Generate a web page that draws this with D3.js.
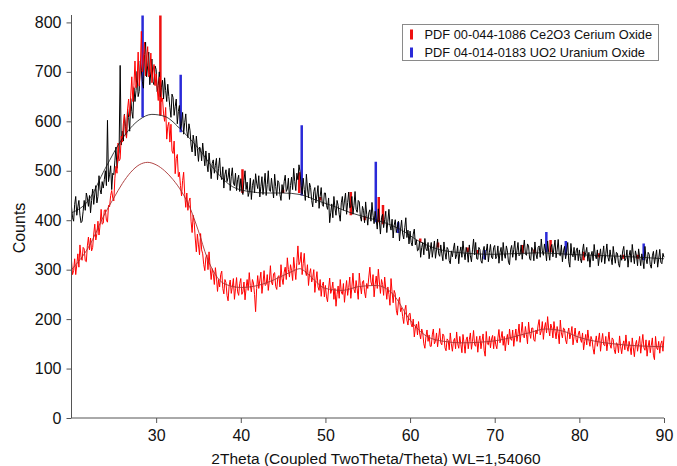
<!DOCTYPE html>
<meta charset="utf-8" />
<title>XRD pattern</title>
<style>
  body { margin: 0; background: #fff; }
  svg { display: block; font-family: "Liberation Sans", Arial, sans-serif; }
  .tick text { font-size: 16px; fill: #111; }
  .axis path, .axis line { stroke: #555; }
</style>
<body>
<svg width="677" height="466"></svg>
<script src="https://d3js.org/d3.v7.min.js"></script>
<script>
// scan grid: 2Theta from 20 to 90 in 0.125 deg steps, one row = 5 degrees
const step = 0.125;

// black scan (counts)
const blackCounts = [
  427,405,398,432,448,410,427,440,410,395,398,418,440,420,455,445,428,450,415,440,463,432,453,470,435,448,490,462,453,478,465,482,500,470,602,478,493,510,462,495,
  492,520,548,505,523,538,713,552,580,560,614,590,567,625,608,580,646,620,606,668,640,662,701,650,660,722,703,680,667,735,760,690,712,740,674,700,726,680,674,712,
  705,660,672,700,650,668,683,645,688,662,640,675,650,628,608,655,648,612,630,645,595,620,632,585,595,618,574,598,615,580,567,595,582,552,538,572,557,530,570,545,
  519,548,545,520,556,532,510,540,515,498,536,512,484,515,522,495,511,525,482,505,526,490,482,508,465,492,502,478,487,505,460,488,506,475,470,495,460,482,491,458,
  484,460,452,480,500,462,477,448,457,485,442,470,482,455,494,475,464,490,447,468,488,452,473,495,450,472,500,460,458,485,465,445,493,468,450,480,476,452,440,472,
  455,478,491,458,463,485,442,470,487,462,505,478,460,495,482,512,498,470,453,485,462,440,493,465,445,475,466,440,427,458,466,435,451,470,424,448,466,432,428,455,
  455,430,422,445,395,415,433,405,448,425,410,440,430,412,398,435,448,420,439,455,412,436,457,425,427,448,412,430,458,422,416,440,437,408,398,428,420,395,437,412,
  390,415,421,398,436,410,393,418,400,382,423,398,372,405,412,385,401,418,375,398,422,390,380,402,364,390,401,375,386,398,358,382,400,372,362,385,405,365,380,352,
  378,355,348,372,382,350,360,338,340,358,325,345,355,330,363,342,338,355,322,340,355,325,342,358,323,340,362,332,327,350,332,318,356,335,321,345,341,318,312,338,
  326,342,354,322,330,348,312,335,346,325,358,335,320,345,336,315,350,328,316,340,362,330,355,322,321,345,341,318,313,338,347,320,337,352,316,335,351,325,322,345,
  349,322,327,348,313,335,345,318,355,332,323,348,338,315,310,340,349,325,341,358,319,338,355,328,331,350,321,342,360,332,329,352,348,322,319,345,340,318,356,332,
  322,345,348,325,362,338,329,352,338,318,358,335,319,345,351,326,344,360,324,340,361,330,328,350,316,338,347,322,336,355,316,305,353,330,326,345,319,338,344,318,
  340,322,314,338,352,325,334,345,317,335,305,328,337,318,351,330,322,340,308,326,342,315,330,348,312,332,352,325,317,340,324,310,347,328,313,335,333,312,305,330,
  319,338,347,318,323,340,305,328,339,315,351,330,312,338,328,308,342,325,308,332,319,302,347,322,312,335,331,310,303,328,337,312,326,340,305,322,341,315,312,333,
  325
];

// red scan (counts)
const redCounts = [
  318,290,298,322,290,310,332,305,350,325,319,345,342,318,316,348,366,340,364,338,345,372,392,360,373,398,370,390,422,392,394,420,421,400,396,430,427,450,460,445,
  439,485,509,495,556,520,524,570,558,595,613,580,566,625,645,610,653,690,640,672,722,668,681,740,671,705,782,700,726,760,692,730,751,690,697,738,678,700,715,672,
  696,665,642,688,691,640,647,615,600,628,564,590,598,558,594,540,535,560,494,525,533,488,497,470,449,480,497,452,426,455,420,438,445,398,375,410,395,362,336,372,
  350,330,373,340,332,310,298,325,330,300,336,305,280,302,292,270,304,285,256,280,265,290,297,262,251,280,274,248,237,268,279,252,265,282,240,262,284,255,248,272,
  282,250,255,275,239,262,280,258,294,268,255,280,273,250,215,262,288,262,279,295,252,272,298,268,270,290,258,278,308,275,269,292,294,266,260,285,288,265,310,282,
  270,295,305,280,324,300,285,310,298,278,325,302,280,315,348,310,316,335,290,312,333,298,288,310,268,292,302,275,284,300,254,278,296,265,258,280,246,268,275,245,
  268,245,235,262,283,252,260,275,240,262,226,250,267,242,280,255,250,272,234,258,278,248,264,285,242,265,293,260,253,278,261,240,293,268,251,275,278,255,243,272,
  262,285,305,275,268,290,245,270,287,262,301,275,252,280,270,248,285,262,240,265,250,228,282,255,233,258,251,218,208,235,244,215,223,205,191,218,228,198,188,210,
  212,190,184,200,164,182,190,168,195,172,160,180,172,150,141,165,178,155,168,145,145,168,180,150,155,172,144,162,181,152,148,170,166,142,136,160,157,138,172,150,
  135,155,161,140,174,150,141,165,149,132,169,152,131,158,164,140,158,172,139,155,177,148,145,165,133,155,166,140,156,170,137,125,175,150,148,165,142,160,167,140,
  165,148,140,162,179,152,162,175,147,165,136,158,169,148,180,160,157,178,145,165,180,155,170,190,153,172,194,165,162,185,169,150,194,172,161,182,182,158,155,178,
  170,188,199,168,176,195,159,182,193,172,205,180,166,190,182,162,195,175,160,185,171,150,198,172,162,182,180,158,150,172,182,160,170,185,148,165,182,158,152,170,
  176,160,153,172,138,155,169,148,178,158,145,165,158,140,129,152,166,145,158,172,135,155,171,148,146,165,136,155,174,148,141,162,159,138,130,152,150,132,166,145,
  130,148,156,138,168,145,135,155,143,128,162,142,124,148,157,135,150,165,131,150,169,142,137,158,125,145,157,132,147,162,127,118,165,142,138,155,131,150,156,135,
  165
];

// fitted amorphous background curves
const blackBgTheta = [20,22,24,26,28,29.5,31,33,35,37,39,41,43,45,47,49,51,53,55,57,59,61,63,65,70,75,80,85,90];
const blackBg      = [415,440,505,565,603,614,610,582,545,500,468,458,455,455,452,440,428,415,405,395,380,358,343,336,331,334,330,327,322];
const redBgTheta = [20,22,24,25,26,27,28,29,30,31,32,33,34,35,36,37,38,40,42,44,46,47,48,50,52,54,56,58,60,62,64,66,70,74,76,78,80,84,90];
const redBg      = [300,345,415,445,474,497,512,517,512,500,482,458,425,378,325,290,272,264,268,280,296,302,290,262,258,266,268,250,198,165,155,152,156,172,180,176,163,150,144];

// reference patterns (stick positions, drawn from low to high counts)
const ceTheta = [30.5,40.2,45.0,46.9,49.4,53.0,54.65,56.3,56.8,61.2,63.3,66.8,68.0,73.3,74.7,76.6,80.5,82.3,85.2,86.9];
const ceLow   = [612,455,455,455,440,410,400,396,392,355,345,335,332,333,333,335,319,325,322,322];
const ceHigh  = [814,503,462,497,447,457,408,447,431,363,355,345,340,350,341,360,336,333,330,330];
const uoTheta = [28.4,32.9,47.2,55.95,58.6,68.8,76.1,78.4,87.6];
const uoLow   = [608,578,450,396,374,321,335,329,319];
const uoHigh  = [814,694,592,518,396,340,376,358,353];

const legendLabels = ["PDF 00-044-1086 Ce2O3 Cerium Oxide", "PDF 04-014-0183 UO2 Uranium Oxide"];
const yTicks = [0,100,200,300,400,500,600,700,800];
const xTicks = [30,40,50,60,70,80,90];

const svg = d3.select("svg");
const x = d3.scaleLinear().domain([20, 90]).range([71.5, 664]);
const y = d3.scaleLinear().domain([0, 815]).range([418, 15]);

svg.append("defs").append("clipPath").attr("id", "plot")
  .append("rect").attr("x", x(20)).attr("y", y(815) - 1)
  .attr("width", x(90) - x(20) + 2).attr("height", y(0) - y(815) + 1);

const plot = svg.append("g").attr("clip-path", "url(#plot)");

// sticks behind the scans
function sticks(th, lo, hi, color) {
  plot.append("g").selectAll("line")
    .data(th)
    .join("line")
    .attr("x1", d => x(d)).attr("x2", d => x(d))
    .attr("y1", (d, i) => y(lo[i]))
    .attr("y2", (d, i) => y(hi[i]))
    .attr("stroke", color)
    .attr("stroke-width", 2.5);
}
sticks(uoTheta, uoLow, uoHigh, "#2a2ad8");
sticks(ceTheta, ceLow, ceHigh, "#ee1111");

const scanLine = d3.line().x((d, i) => x(20 + i * step)).y(d => y(d));

plot.append("path")
  .datum(blackCounts)
  .attr("fill", "none")
  .attr("stroke", "#000")
  .attr("stroke-width", 1)
  .attr("d", scanLine);

plot.append("path")
  .datum(redCounts)
  .attr("fill", "none")
  .attr("stroke", "#f00")
  .attr("stroke-width", 1)
  .attr("d", scanLine);

// background fits
const bgLine = th => d3.line().curve(d3.curveMonotoneX).x((d, i) => x(th[i])).y(d => y(d));
plot.append("path")
  .datum(blackBg)
  .attr("fill", "none")
  .attr("stroke", "#111")
  .attr("stroke-width", 0.8)
  .attr("d", bgLine(blackBgTheta));
plot.append("path")
  .datum(redBg)
  .attr("fill", "none")
  .attr("stroke", "#a83232")
  .attr("stroke-width", 0.9)
  .attr("d", bgLine(redBgTheta));

// axes
const yAxis = svg.append("g").attr("class", "axis").attr("transform", `translate(${x(20)},0)`);
yAxis.call(d3.axisLeft(y).tickValues(d3.range(0, 811, 10)).tickSize(2.5).tickFormat(""));
yAxis.call(d3.axisLeft(y).tickValues(yTicks).tickSize(5).tickPadding(5).tickFormat(d3.format("d")));
yAxis.select(".domain").attr("d", `M0,${y(0)}V${y(815)}`);

const xAxis = svg.append("g").attr("class", "axis").attr("transform", `translate(0,${y(0)})`);
xAxis.call(d3.axisBottom(x).tickValues(d3.range(20, 91, 1)).tickSize(2.5).tickFormat(""));
xAxis.call(d3.axisBottom(x).tickValues(xTicks).tickSize(5).tickPadding(7));
xAxis.select(".domain").attr("d", `M${x(20)},0H${x(90)}`);

svg.selectAll(".axis .tick text").attr("fill", "#111");

svg.append("text")
  .attr("x", 376).attr("y", 464)
  .attr("text-anchor", "middle")
  .attr("font-size", 15.5)
  .attr("fill", "#111")
  .text("2Theta (Coupled TwoTheta/Theta) WL=1,54060");

svg.append("text")
  .attr("transform", "translate(25,228) rotate(-90)")
  .attr("text-anchor", "middle")
  .attr("font-size", 16)
  .attr("fill", "#111")
  .text("Counts");

// legend
const legend = svg.append("g").attr("transform", "translate(402.5,24.5)");
legend.append("rect")
  .attr("width", 256).attr("height", 36)
  .attr("fill", "#fff").attr("stroke", "#8a8a8a");
const legendColors = ["#ee1111", "#2a2ad8"];
const rows = legend.selectAll("g.row").data(legendLabels).join("g")
  .attr("class", "row")
  .attr("transform", (d, i) => `translate(0,${9 + i * 18})`);
rows.append("rect")
  .attr("x", 7.5).attr("y", -4).attr("width", 3).attr("height", 10)
  .attr("fill", (d, i) => legendColors[i]);
rows.append("text")
  .attr("x", 22).attr("y", 5)
  .attr("font-size", 12.8)
  .attr("fill", "#111")
  .text(d => d);
</script>
</body>
